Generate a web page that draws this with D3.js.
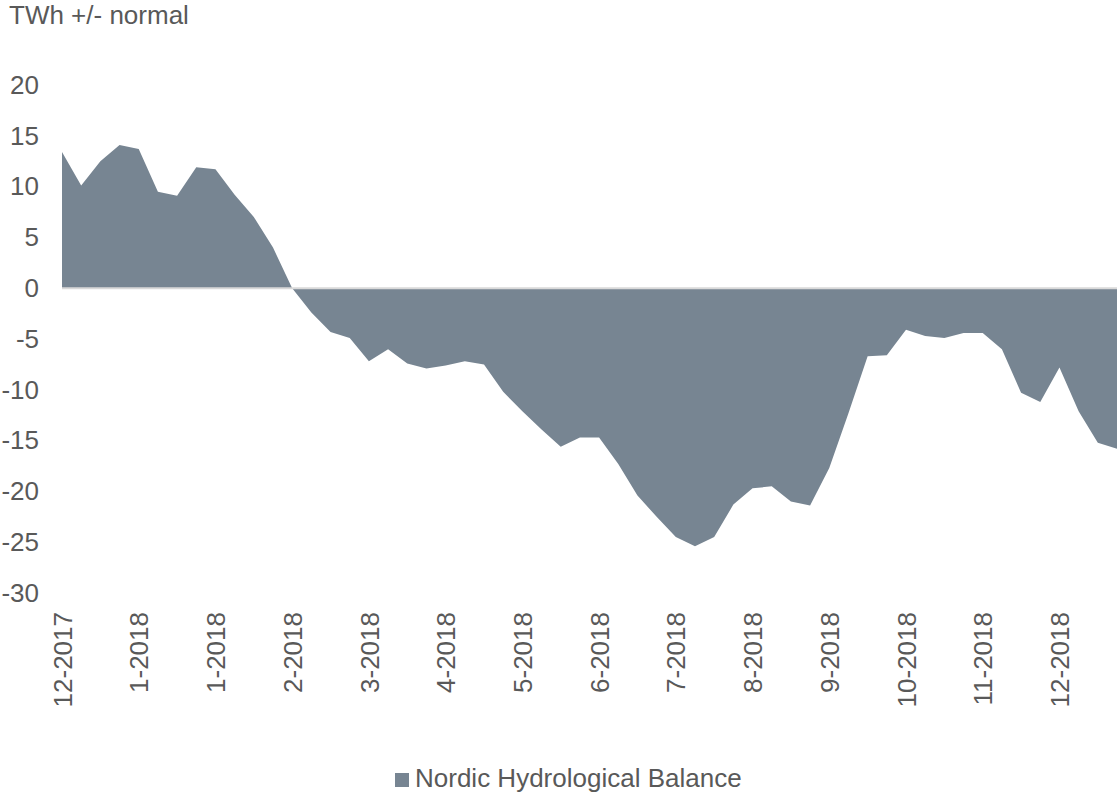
<!DOCTYPE html>
<html>
<head>
<meta charset="utf-8">
<script src="https://cdn.jsdelivr.net/npm/d3@7"></script>
<style>
  body { margin: 0; background: #fff; }
  text { font-family: "Liberation Sans", Arial, sans-serif; fill: #595959; }
</style>
</head>
<body>
<div id="chart"></div>
<script>
// weekly balance, TWh above/below normal
const balance = [
    13.4, 10.1, 12.5, 14.1, 13.7, 9.5, 9.1, 11.9, 11.7, 9.2, 7.0, 4.0,
    0.0, -2.4, -4.3, -4.9, -7.2, -6.0, -7.4, -7.9, -7.6, -7.2, -7.5, -10.2,
    -12.1, -13.9, -15.6, -14.7, -14.7, -17.3, -20.4, -22.5, -24.5, -25.4, -24.5, -21.3,
    -19.7, -19.5, -21.0, -21.4, -17.7, -12.3, -6.7, -6.6, -4.1, -4.7, -4.9, -4.4,
    -4.4, -6.0, -10.3, -11.2, -7.8, -12.1, -15.2, -15.8
];
// one label every 4 weeks
const monthLabels = ['12-2017', '1-2018', '1-2018', '2-2018', '3-2018', '4-2018', '5-2018',
    '6-2018', '7-2018', '8-2018', '9-2018', '10-2018', '11-2018', '12-2018'];
const yTicks = [20, 15, 10, 5, 0, -5, -10, -15, -20, -25, -30];
const seriesName = 'Nordic Hydrological Balance';
const FILL = '#778592';

const W = 1117, H = 794;
const PLOT = { LEFT: 62, RIGHT: 1117, TOP: 85, BOTTOM: 593 };

const svg = d3.select('#chart')
    .append('svg')
    .attr('width', W)
    .attr('height', H);

const x = d3.scaleLinear()
    .domain([0, balance.length - 1])
    .range([PLOT.LEFT, PLOT.RIGHT]);

const y = d3.scaleLinear()
    .domain([-30, 20])
    .range([PLOT.BOTTOM, PLOT.TOP]);

// unit label
svg.append('text')
    .attr('x', 9)
    .attr('y', 24)
    .style('font-size', '26px')
    .text('TWh +/- normal');

// y axis, labels only (plain hyphen for negatives, like the original)
const yAxis = svg.append('g')
    .attr('transform', `translate(${PLOT.LEFT - 23}, 0)`)
    .call(d3.axisLeft(y)
        .tickValues(yTicks)
        .tickFormat(d => String(d))
        .tickSize(0)
        .tickPadding(0));
yAxis.select('.domain').remove();
yAxis.selectAll('text')
    .style('font-size', '26px')
    .attr('fill', '#595959');

// area against zero
const area = d3.area()
    .x((d, i) => x(i))
    .y0(y(0))
    .y1(d => y(d));

svg.append('path')
    .datum(balance)
    .attr('fill', FILL)
    .attr('d', area);

// zero line
svg.append('line')
    .attr('x1', PLOT.LEFT)
    .attr('x2', PLOT.RIGHT)
    .attr('y1', y(0))
    .attr('y2', y(0))
    .attr('stroke', '#d9d9d9')
    .attr('stroke-width', 2);

// x axis, rotated month labels
const xAxis = svg.append('g')
    .attr('transform', `translate(0, ${PLOT.BOTTOM})`)
    .call(d3.axisBottom(x)
        .tickValues(monthLabels.map((d, i) => i * 4))
        .tickFormat(d => monthLabels[d / 4])
        .tickSize(0));
xAxis.select('.domain').remove();
xAxis.selectAll('text')
    .style('font-size', '26px')
    .attr('fill', '#595959')
    .attr('text-anchor', 'end')
    .attr('transform', 'rotate(-90)')
    .attr('x', -19)
    .attr('y', 0)
    .attr('dy', '0.35em');

// legend
const legend = svg.append('g')
    .attr('transform', 'translate(395, 773)');
legend.append('rect')
    .attr('width', 14)
    .attr('height', 14)
    .attr('fill', FILL);
legend.append('text')
    .attr('x', 20)
    .attr('y', 14)
    .style('font-size', '26px')
    .text(seriesName);
</script>
</body>
</html>
